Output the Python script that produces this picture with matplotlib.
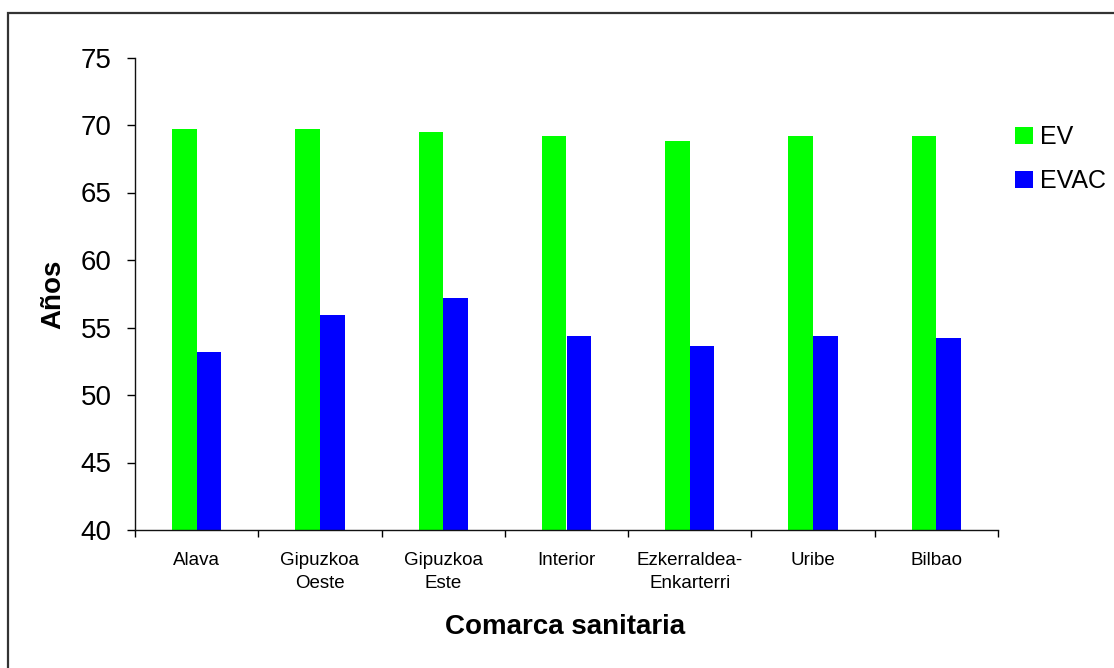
import matplotlib
matplotlib.use("Agg")
import matplotlib.pyplot as plt
import numpy as np
from matplotlib.patches import Rectangle, Patch

plt.rcParams['font.family'] = ['Liberation Sans', 'DejaVu Sans']

# Health districts and life expectancy figures (years)
comarcas = ["Alava", "Gipuzkoa\nOeste", "Gipuzkoa\nEste", "Interior",
            "Ezkerraldea-\nEnkarterri", "Uribe", "Bilbao"]
ev = [69.7, 69.7, 69.5, 69.15, 68.85, 69.15, 69.15]
evac = [53.2, 55.9, 57.15, 54.35, 53.6, 54.35, 54.2]
series_names = ["EV", "EVAC"]
y_ticks = [40, 45, 50, 55, 60, 65, 70, 75]

W, H = 1114, 668
fig = plt.figure(figsize=(W / 100, H / 100), dpi=100)
ax = fig.add_axes([135 / W, (H - 530) / H, (998 - 135) / W, (530 - 57.5) / H])

x = np.arange(len(comarcas))
bw = 0.2
ax.bar(x - bw / 2, ev, width=bw, color="#00ff00", label=series_names[0])
ax.bar(x + bw / 2, evac, width=bw, color="#0000ff", label=series_names[1])

ax.set_xlim(-0.5, len(comarcas) - 0.5)
ax.set_ylim(40, 75)
ax.set_yticks(y_ticks)
ax.set_yticklabels([str(v) for v in y_ticks], fontsize=20)
ax.tick_params(axis="y", length=6, width=1, pad=11, direction="out")

# category boundaries carry tick marks; names sit at the centers
ax.set_xticks(np.arange(len(comarcas) + 1) - 0.5)
ax.set_xticklabels([])
ax.tick_params(axis="x", which="major", length=5, width=1, direction="out")
ax.set_xticks(x, minor=True)
ax.set_xticklabels(comarcas, minor=True, fontsize=13.5, linespacing=1.45)
ax.tick_params(axis="x", which="minor", length=0, pad=16)

for side in ("top", "right"):
    ax.spines[side].set_visible(False)
for side in ("left", "bottom"):
    ax.spines[side].set_color("#111111")
    ax.spines[side].set_linewidth(1)

fig.text(565 / W, 1 - 627 / H, "Comarca sanitaria", fontsize=20,
         fontweight="bold", ha="center", va="center")
fig.text(53 / W, 1 - 294 / H, "Años", fontsize=20, fontweight="bold",
         rotation=90, ha="center", va="center")

handles = [Patch(facecolor="#00ff00"), Patch(facecolor="#0000ff")]
fig.legend(handles, series_names, loc="upper left",
           bbox_to_anchor=(1005 / W, 1 - 115 / H), frameon=False,
           fontsize=18, handlelength=0.7, handleheight=0.7,
           handletextpad=0.3, labelspacing=0.8, borderaxespad=0)

# chart frame
fig.patches.append(Rectangle((7.5 / W, -0.1), 1.2, 1 - 13.5 / H + 0.1,
                             transform=fig.transFigure, fill=False,
                             edgecolor="#333333", linewidth=1.6))

fig.savefig("out.png", dpi=100)
